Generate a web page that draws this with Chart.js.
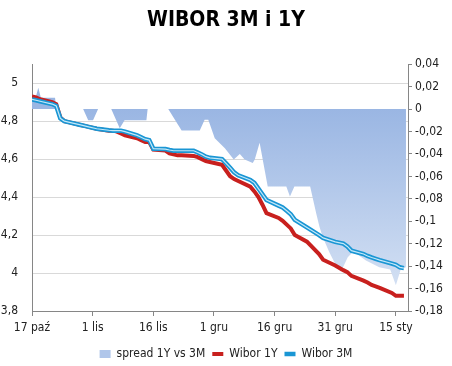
<!DOCTYPE html>
<html>
<head>
<meta charset="utf-8">
<script src="https://cdn.jsdelivr.net/npm/chart.js@4"></script>
<style>
  body { margin: 0; background: #fff; }
  #wrap { width: 452px; height: 366px; }
</style>
</head>
<body>
<div id="wrap"><canvas id="chart"></canvas></div>
<script>
// days counted from 17 paz
var days = [0,1,2,5,6,7,8,9,12,13,14,16,19,20,21,22,23,26,27,28,29,30,33,34,35,36,37,40,41,42,43,44,47,48,49,50,51,54,55,56,57,58,61,62,63,64,65,68,71,72,75,77,78,79,82,83,84,85,86,89,90,91,92];
var wibor1Y = [4.93,4.925,4.915,4.90,4.89,4.82,4.80,4.795,4.78,4.775,4.77,4.76,4.75,4.75,4.745,4.735,4.725,4.71,4.70,4.69,4.69,4.65,4.645,4.63,4.625,4.62,4.62,4.617,4.61,4.60,4.59,4.585,4.57,4.54,4.51,4.495,4.485,4.455,4.43,4.40,4.36,4.315,4.29,4.275,4.255,4.235,4.20,4.165,4.10,4.07,4.04,4.015,4.005,3.985,3.96,3.95,3.937,3.93,3.922,3.895,3.88,3.88,3.88];
var wibor3M = [4.915,4.91,4.905,4.89,4.88,4.815,4.80,4.795,4.78,4.775,4.77,4.76,4.752,4.75,4.75,4.75,4.745,4.725,4.715,4.705,4.70,4.655,4.653,4.648,4.644,4.644,4.644,4.644,4.635,4.625,4.613,4.607,4.60,4.578,4.555,4.53,4.515,4.49,4.475,4.445,4.415,4.385,4.355,4.345,4.328,4.31,4.28,4.24,4.20,4.185,4.164,4.155,4.14,4.118,4.10,4.09,4.082,4.075,4.068,4.05,4.043,4.03,4.026];

var spreadDays = [0,0.9,1.55,2.2,5.7,6.0,12.65,13.9,15.1,16.35,19.6,21.7,22.9,28.3,28.6,33.7,37.0,41.5,42.7,43.6,45.2,47.7,49.9,51.4,52.6,54.6,55.1,56.3,58.3,62.9,63.8,64.9,68.8,70.3,71.1,71.9,73.6,75.3,76.4,78.1,79.5,82.6,85.9,88.6,90.0,91.2,92.5];
var spreadVals = [0.01,0.01,0.019,0.01,0.01,0,0,-0.01,-0.01,0,0,-0.017,-0.01,-0.01,0,0,-0.019,-0.019,-0.0096,-0.0096,-0.026,-0.035,-0.045,-0.04,-0.045,-0.048,-0.045,-0.03,-0.069,-0.069,-0.078,-0.069,-0.069,-0.093,-0.105,-0.114,-0.128,-0.14,-0.145,-0.132,-0.127,-0.135,-0.141,-0.143,-0.157,-0.143,-0.141];

var xTickDays = [0,15,30,45,60,75,90];
var xTickLabels = ['17 paź','1 lis','16 lis','1 gru','16 gru','31 gru','15 sty'];
var leftTicks = [3.8,4.0,4.2,4.4,4.6,4.8,5.0];
var rightTicks = [-0.18,-0.16,-0.14,-0.12,-0.1,-0.08,-0.06,-0.04,-0.02,0,0.02,0.04];

var FONT = "'DejaVu Sans Condensed', 'DejaVu Sans', sans-serif";

function pts(xs, ys) {
  return xs.map(function(x, i) { return {x: x, y: ys[i]}; });
}
function fmt(v) {
  return String(+v.toFixed(2)).replace('.', ',');
}

var areaFill = function(ctx) {
  var c = ctx.chart;
  if (!c.chartArea) return '#b0c6ea';
  var y0 = c.scales.y1.getPixelForValue(0);
  var y1 = c.scales.y1.getPixelForValue(-0.16);
  var g = c.ctx.createLinearGradient(0, y0, 0, y1);
  g.addColorStop(0, '#9ab6e3');
  g.addColorStop(1, '#d3e0f3');
  return g;
};

var config = {
  type: 'line',
  data: {
    datasets: [{
      label: 'spread 1Y vs 3M',
      data: pts(spreadDays, spreadVals),
      yAxisID: 'y1',
      fill: 'origin',
      backgroundColor: areaFill,
      borderWidth: 0,
      pointRadius: 0,
      pointStyle: 'rect',
      order: 3
    },{
      label: 'Wibor 1Y',
      data: pts(days, wibor1Y),
      yAxisID: 'y',
      borderColor: '#c8201e',
      backgroundColor: '#c8201e',
      borderWidth: 4,
      pointRadius: 0,
      pointStyle: 'line',
      order: 2
    },{
      label: 'Wibor 3M',
      data: pts(days, wibor3M),
      yAxisID: 'y',
      borderColor: '#1a96d4',
      backgroundColor: '#1a96d4',
      borderWidth: 4.5,
      pointRadius: 0,
      pointStyle: 'line',
      order: 1
    },{
      label: 'hl',
      data: pts(days, wibor3M),
      yAxisID: 'y',
      borderColor: '#c4e8f8',
      borderWidth: 1.2,
      pointRadius: 0,
      order: 0
    }]
  },
  options: {
    responsive: true,
    maintainAspectRatio: false,
    animation: false,
    layout: { padding: { left: 0, right: 0, top: 0, bottom: -4 } },
    plugins: {
      tooltip: { enabled: false },
      title: {
        display: true,
        text: 'WIBOR 3M i 1Y',
        color: '#000',
        font: { family: FONT, size: 21, weight: 'bold' },
        padding: { top: 8, bottom: 31 }
      },
      legend: {
        position: 'bottom',
        labels: {
          color: '#222',
          font: { family: FONT, size: 12 },
          usePointStyle: true,
          pointStyleWidth: 11,
          boxHeight: 8,
          padding: 7,
          filter: function(item) { return item.datasetIndex < 3; },
          sort: function(a, b) { return a.datasetIndex - b.datasetIndex; },
          generateLabels: function(chart) {
            var items = Chart.defaults.plugins.legend.labels.generateLabels(chart);
            items.forEach(function(it) {
              if (it.datasetIndex === 0) { it.fillStyle = '#b0c6ea'; it.strokeStyle = '#b0c6ea'; it.lineWidth = 0; }
            });
            return items;
          }
        }
      }
    },
    scales: {
      x: {
        type: 'linear',
        min: 0,
        max: 93,
        afterBuildTicks: function(s) { s.ticks = xTickDays.map(function(v) { return {value: v}; }); },
        afterFit: function(s) { s.height = 30; },
        ticks: {
          color: '#222',
          font: { family: FONT, size: 12 },
          padding: 5,
          maxRotation: 0,
          autoSkip: false,
          callback: function(v) { var i = xTickDays.indexOf(v); return i >= 0 ? xTickLabels[i] : ''; }
        },
        grid: { drawOnChartArea: false, tickLength: 5, tickColor: '#868686' },
        border: { color: '#868686' }
      },
      y: {
        position: 'left',
        min: 3.8,
        max: 5.1,
        afterBuildTicks: function(s) { s.ticks = leftTicks.map(function(v) { return {value: v}; }); },
        afterFit: function(s) { s.width = 32; },
        ticks: {
          color: '#222',
          font: { family: FONT, size: 12 },
          padding: 14,
          callback: function(v) { return fmt(v); }
        },
        grid: { color: '#d9d9d9', drawTicks: false },
        border: { color: '#868686' }
      },
      y1: {
        position: 'right',
        min: -0.18,
        max: 0.04,
        afterBuildTicks: function(s) { s.ticks = rightTicks.map(function(v) { return {value: v}; }); },
        afterFit: function(s) { s.width = 44; },
        ticks: {
          color: '#222',
          font: { family: FONT, size: 12 },
          padding: 3,
          callback: function(v) { return fmt(v); }
        },
        grid: { drawOnChartArea: false, tickLength: 4, tickColor: '#868686' },
        border: { color: '#868686' }
      }
    }
  }
};

var myChart = new Chart(document.getElementById('chart'), config);
</script>
</body>
</html>
